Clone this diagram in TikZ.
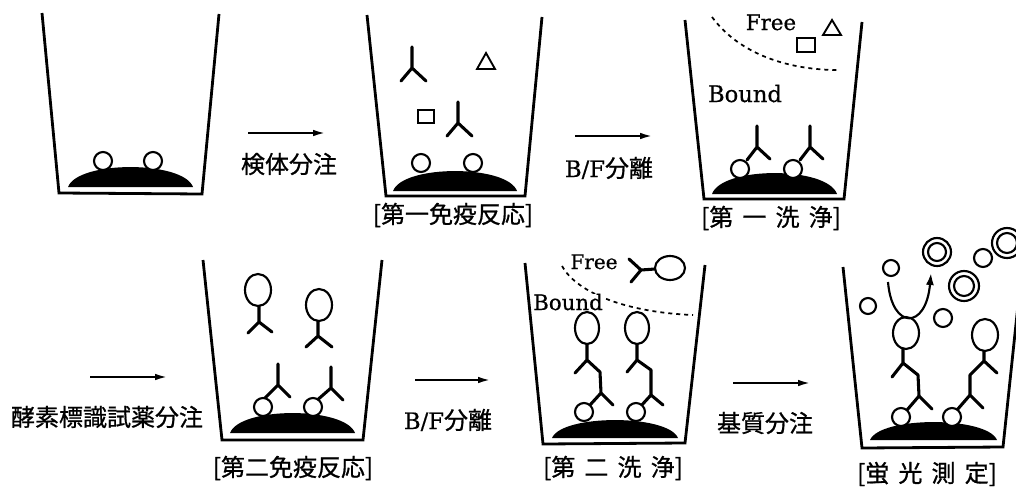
\documentclass[tikz,border=0pt]{standalone}
\usepackage{fontspec}
\usetikzlibrary{arrows.meta}
\newfontfamily\jpfont[FakeBold=0.8]{Noto Sans CJK JP}
\newfontfamily\latfont[FakeBold=0.6]{DejaVu Serif}
\newcommand\pxu{0.75pt}
\newcommand\wgap{\hspace{0.38em}}
% solid phase: dome from x=#1 to x=#2, top at #3, base at #4
\newcommand\dome[4]{\fill (#1,#4) .. controls ({#1+0.08*(#2-#1)},{#4-1.33*(#4-#3)}) and ({#2-0.08*(#2-#1)},{#4-1.33*(#4-#3)}) .. (#2,#4) -- cycle;}
\begin{document}
\begin{tikzpicture}[x=0.75pt,y=-0.75pt,
  wall/.style={line width=2.1pt,line join=miter},
  ab/.style={line width=2.3pt,line cap=round,line join=round},
  ag/.style={line width=1.6pt,fill=white},
  flow/.style={line width=1.4pt,-{Latex[length=9pt,width=5pt]}},
  sep/.style={line width=1.3pt,dash pattern=on 3pt off 3pt},
  jp/.style={font=\jpfont\fontsize{18pt}{20pt}\selectfont,inner sep=0pt},
  lat/.style={inner sep=0pt,anchor=base}]
\useasboundingbox (0,0) rectangle (1016,489);

% ---------- wells ----------
\draw[wall] (42,13) -- (59,193) -- (202,194) -- (219,14);
\draw[wall] (367,15) -- (386,196) -- (525,196) -- (542,17);
\draw[wall] (685,20) -- (704,199) -- (844,199) -- (862,22);
\draw[wall] (203,260) -- (222,440) -- (363,440) -- (382,260);
\draw[wall] (525,263) -- (543,444) -- (685,443) -- (705,265);
\draw[wall] (843,267) -- (862,448) -- (1003,447) -- (1022,267);

% ---------- solid phases ----------
\dome{68}{193}{167}{187}
\dome{393}{517}{171}{191}
\dome{712}{837}{173}{194}
\dome{230}{355}{413}{433}
\dome{552}{678}{420}{438}
\dome{870}{997}{422}{440}

% ---------- well 1 ----------
\draw[ag] (103,161) circle[radius=9*\pxu];
\draw[ag] (153,161) circle[radius=9*\pxu];

% ---------- well 2: first immune reaction ----------
\draw[ab] (412,47) -- (412,68) (401,81) -- (412,68) -- (426,81);
\draw[ab] (458,102) -- (458,123) (447,136) -- (458,123) -- (472,136);
\draw[line width=1.4pt] (486,53) -- (477,69) -- (495,69) -- cycle;
\draw[line width=1.4pt] (418,110) rectangle (434,123);
\draw[ag] (421,163) circle[radius=9*\pxu];
\draw[ag] (473,163) circle[radius=9*\pxu];

% ---------- well 3: first wash ----------
\draw[sep] (712,17) .. controls (740,55) and (790,70) .. (838,70);
\node[lat,font=\latfont\fontsize{16pt}{16pt}\selectfont] (free1) at (771,30) {Free};
\node[lat,font=\latfont\fontsize{17pt}{17pt}\selectfont] (bound1) at (745,102) {Bound};
\draw[line width=1.4pt] (832,20) -- (823,35) -- (841,35) -- cycle;
\draw[line width=1.4pt] (797,38) rectangle (815,52);
\draw[ab] (757,126) -- (757,147) (747,160) -- (757,147) -- (770,159);
\draw[ab] (810,126) -- (810,147) (800,160) -- (810,147) -- (823,159);
\draw[ag] (740,169) circle[radius=9*\pxu];
\draw[ag] (793,169) circle[radius=9*\pxu];

% ---------- well 4: second immune reaction ----------
\draw[ab] (259,306) -- (259,322) (248,333) -- (259,322) -- (272,332);
\draw[ag] (258,290) ellipse[x radius=13*\pxu,y radius=16*\pxu];
\draw[ab] (318,321) -- (318,336) (306,347) -- (318,336) -- (332,347);
\draw[ag] (319,305) ellipse[x radius=13*\pxu,y radius=16*\pxu];
\draw[ab] (278,364) -- (278,385) (265,398) -- (278,385) -- (290,397);
\draw[ab] (331,367) -- (331,388) (315,402) -- (331,388) -- (343,400);
\draw[ag] (263,407) circle[radius=9*\pxu];
\draw[ag] (313,407) circle[radius=9*\pxu];

% ---------- well 5: second wash ----------
\draw[sep] (562,266) .. controls (575,290) and (620,312) .. (693,315);
\node[lat,font=\latfont\fontsize{15pt}{15pt}\selectfont,fill=white,inner xsep=1pt] (free2) at (594,269) {Free};
\node[lat,font=\latfont\fontsize{16pt}{16pt}\selectfont,fill=white,inner xsep=1pt] (bound2) at (568,310) {Bound};
\draw[ab] (629,259) -- (641,270) -- (631,282) (641,270) -- (655,269);
\draw[ag] (670,268) ellipse[x radius=15*\pxu,y radius=12*\pxu];
% bound complexes
\draw[ab] (587,344) -- (587,360) (575,373) -- (587,360) -- (600,372) -- (601,393)
          (590,405) -- (601,393) -- (613,405);
\draw[ag] (587,328) ellipse[x radius=12*\pxu,y radius=16*\pxu];
\draw[ab] (637,344) -- (637,360) (627,372) -- (637,360) -- (651,370) -- (651,395)
          (640,407) -- (651,395) -- (663,405);
\draw[ag] (637,328) ellipse[x radius=12*\pxu,y radius=16*\pxu];
\draw[ag] (584,412) circle[radius=9*\pxu];
\draw[ag] (636,412) circle[radius=9*\pxu];

% ---------- well 6: fluorescence ----------
\draw[ab] (903,349) -- (903,363) (892,377) -- (903,363) -- (918,375) -- (919,396)
          (907,410) -- (919,396) -- (932,409);
\draw[ag] (906,333) ellipse[x radius=13*\pxu,y radius=16*\pxu];
\draw[ab] (984,351) -- (984,361) (997,373) -- (984,361) -- (970,375) -- (970,395)
          (957,410) -- (970,395) -- (983,408);
\draw[ag] (985,335) ellipse[x radius=13*\pxu,y radius=16*\pxu];
\draw[ag] (901,417) circle[radius=9*\pxu];
\draw[ag] (952,417) circle[radius=9*\pxu];
% substrate and fluorescent product
\draw[ag] (891,268) circle[radius=8*\pxu];
\draw[ag] (868,306) circle[radius=8*\pxu];
\draw[ag] (943,318) circle[radius=9*\pxu];
\draw[ag] (983,258) circle[radius=9*\pxu];
\draw[ag] (937,252) circle[radius=14*\pxu] (937,252) circle[radius=9*\pxu];
\draw[ag] (964,286) circle[radius=15*\pxu] (964,286) circle[radius=10*\pxu];
\draw[ag] (1007,243) circle[radius=15*\pxu] (1007,243) circle[radius=10*\pxu];
\coordinate (cs) at (888,282);
\coordinate (ce) at (931,273);
\draw[line width=1.6pt,-{Latex[length=9pt,width=6pt]}] (cs) .. controls (892,330) and (926,330) .. (ce);

% ---------- process arrows ----------
\coordinate (s1) at (248,133); \coordinate (e1) at (325,133);
\coordinate (s2) at (575,136); \coordinate (e2) at (652,136);
\coordinate (s3) at (90,377);  \coordinate (e3) at (167,377);
\coordinate (s4) at (415,380); \coordinate (e4) at (490,380);
\coordinate (s5) at (733,383); \coordinate (e5) at (810,383);
\draw[flow] (s1) -- (e1);
\draw[flow] (s2) -- (e2);
\draw[flow] (s3) -- (e3);
\draw[flow] (s4) -- (e4);
\draw[flow] (s5) -- (e5);

% ---------- step labels ----------
\node[jp] (l1) at (289,164) {検体分注};
\node[jp] (l2) at (609,168) {{\latfont\fontsize{17pt}{17pt}\selectfont B/F}分離};
\node[jp] (l3) at (107,417) {酵素標識試薬分注};
\node[jp] (l4) at (448,420) {{\latfont\fontsize{17pt}{17pt}\selectfont B/F}分離};
\node[jp] (l5) at (765,423) {基質分注};

% ---------- captions ----------
\node[jp] (c2) at (453,215) {[第一免疫反応]};
\node[jp] (c3) at (771,218) {[第\wgap 一\wgap 洗\wgap 浄]};
\node[jp] (c4) at (293,468) {[第二免疫反応]};
\node[jp] (c5) at (613,468) {[第\wgap 二\wgap 洗\wgap 浄]};
\node[jp] (c6) at (927,474) {[蛍\wgap 光\wgap 測\wgap 定]};
\end{tikzpicture}
\end{document}
